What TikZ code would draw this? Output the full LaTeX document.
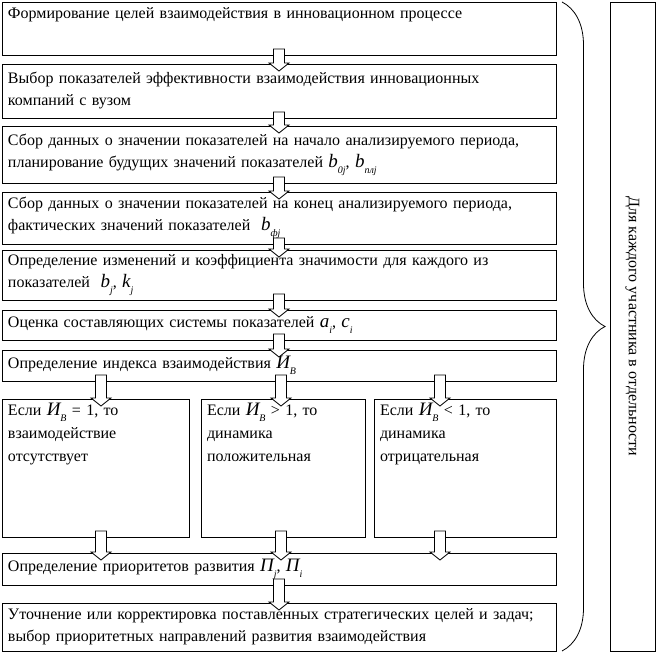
\documentclass[tikz,border=0pt]{standalone}
\usepackage{fontspec}
\setmainfont{Liberation Serif}
\usepackage{tikz}
\usetikzlibrary{
	positioning,
	calc,
	decorations.pathreplacing
}

% italic letter with a lowered index
\newcommand{\subidx}[2]{{\fontsize{19}{22}\selectfont\itshape #1}\raisebox{-0.8ex}{\fontsize{10}{12}\selectfont\itshape #2}}

\begin{document}
\begin{tikzpicture}[
			x=1pt, y=1pt,
			line width=0.8pt,
			box/.style={
				rectangle, draw, minimum height=#1, outer sep=0pt,
				text width=542pt, inner xsep=6pt, inner ysep=3pt,
				align=left, font=\fontsize{16}{22}\selectfont
			},
			case/.style={
				rectangle, draw, minimum height=138pt, outer sep=0pt,
				text width=#1, inner xsep=6pt, inner ysep=3pt,
				text height=14pt, text depth=118pt,
				align=left, font=\fontsize{16}{23}\selectfont
			},
			side/.style={
				rectangle, draw, rotate=-90, outer sep=0pt,
				minimum width=649pt, minimum height=45pt,
				font=\fontsize{16}{22}\selectfont
			},
			blockarrow/.style={draw, fill=white, line width=0.8pt},
			bracket/.style={decorate, decoration={brace, amplitude=43pt}}
			]
			\useasboundingbox (0,0) rectangle (657,653);
			
			% hollow block arrow from #1 (upper box) to #2 (lower box)
			\def\blockarrow#1#2{%
				\draw[blockarrow] ($(#1)+(-5.5,6)$) -- ($(#2)+(-5.5,1)$) -- ($(#2)+(-10,1)$)
				-- ($(#2)+(0,-7)$) -- ($(#2)+(10,1)$) -- ($(#2)+(5.5,1)$) -- ($(#1)+(5.5,6)$) -- cycle;}
			
			% ---------------- main chain ----------------
			\node[box=53pt, text height=14pt, text depth=33pt, anchor=north west] (goals) at (2,651) {
				Формирование целей взаимодействия в инновационном процессе
			};
			
			\node[box=54pt, below=9pt of goals] (choice) {
				Выбор показателей эффективности взаимодействия инновационных\\компаний с вузом
			};
			
			\node[box=57pt, below=8pt of choice] (start) {
				Сбор данных о значении показателей на начало анализируемого периода,\\планирование будущих значений показателей \subidx{b}{0j}, \subidx{b}{плj}
			};
			
			\node[box=52pt, below=9pt of start] (final) {
				Сбор данных о значении показателей на конец анализируемого периода,\\фактических значений показателей \ \subidx{b}{фj}
			};
			
			\node[box=50pt, below=6pt of final] (weights) {
				Определение изменений и коэффициента значимости для каждого из\\показателей \ \subidx{b}{j}, \subidx{k}{j}
			};
			
			\node[box=30pt, below=10pt of weights] (parts) {
				Оценка составляющих системы показателей \subidx{a}{i}, \subidx{c}{i}
			};
			
			\node[box=31pt, below=10pt of parts] (index) {
				Определение индекса взаимодействия \subidx{И}{В}
			};
			
			% ---------------- three cases ----------------
			\node[case=175pt, below=18pt of index.south west, anchor=north west] (equal) {
				Если \subidx{И}{В} = 1, то\\взаимодействие\\отсутствует
			};
			
			\node[case=152pt, right=12pt of equal] (growth) {
				Если \subidx{И}{В} > 1, то\\динамика\\положительная
			};
			
			\node[case=170pt, right=9pt of growth] (decline) {
				Если \subidx{И}{В} < 1, то\\динамика\\отрицательная
			};
			
			% ---------------- priorities ----------------
			\node[box=32pt, below=16pt of equal.south west, anchor=north west] (priority) {
				Определение приоритетов развития \subidx{П}{j}, \subidx{П}{i}
			};
			
			\node[box=48pt, below=18pt of priority] (correct) {
				Уточнение или корректировка поставленных стратегических целей и задач;\\выбор приоритетных направлений развития взаимодействия
			};
			
			% ---------------- brace and side box ----------------
			\draw[bracket] ($(goals.north east)+(6,0)$) -- ($(correct.south east)+(6,0)$);
			
			\node[side] (each) at ($(goals.north east)!0.5!(correct.south east)+(76.5,0)$) {Для каждого участника в отдельности};
			
			% ---------------- arrows ----------------
			\blockarrow{goals.south}{choice.north}
			\blockarrow{choice.south}{start.north}
			\blockarrow{start.south}{final.north}
			\blockarrow{final.south}{weights.north}
			\blockarrow{weights.south}{parts.north}
			\blockarrow{parts.south}{index.north}
			
			\coordinate (pa) at ($(index.south west)+(99,0)$);
			\coordinate (pb) at ($(index.south west)+(279,0)$);
			\coordinate (pc) at ($(index.south west)+(438,0)$);
			
			\blockarrow{pa}{equal.north -| pa}
			\blockarrow{pb}{growth.north -| pb}
			\blockarrow{pc}{decline.north -| pc}
			
			\blockarrow{equal.south -| pa}{priority.north -| pa}
			\blockarrow{growth.south -| pb}{priority.north -| pb}
			\blockarrow{decline.south -| pc}{priority.north -| pc}
			
			\blockarrow{priority.south}{correct.north}
		\end{tikzpicture}
\end{document}
